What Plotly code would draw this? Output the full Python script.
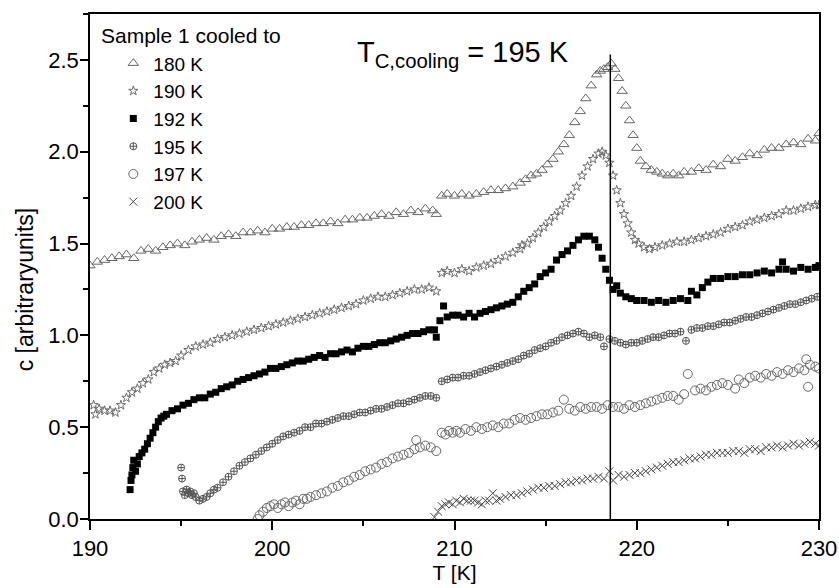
import plotly.graph_objects as go

# ---------------- data ----------------
T_180 = [190.0,190.4,190.8,191.2,191.6,192.0,192.4,192.8,193.2,193.6,
         194.0,194.4,194.8,195.2,195.6,196.0,196.4,196.8,197.2,197.6,
         198.0,198.4,198.8,199.2,199.6,200.0,200.4,200.8,201.2,201.6,
         202.0,202.4,202.8,203.2,203.6,204.0,204.4,204.8,205.2,205.6,
         206.0,206.4,206.8,207.2,207.6,208.0,208.4,208.8,209.0,209.3,
         209.6,210.0,210.4,210.8,211.2,211.6,212.0,212.4,212.8,213.2,
         213.6,213.9,214.2,214.5,214.8,215.1,215.4,215.7,216.0,216.3,
         216.6,216.9,217.2,217.5,217.8,218.0,218.2,218.4,218.6,218.8,
         219.0,219.2,219.4,219.6,219.8,220.0,220.2,220.5,220.8,221.1,
         221.4,221.7,222.0,222.3,222.6,223.0,223.4,223.8,224.2,224.6,
         225.0,225.4,225.8,226.2,226.6,227.0,227.4,227.8,228.2,228.6,
         229.0,229.4,229.8,230.0]
C_180 = [1.38,1.40,1.41,1.42,1.43,1.44,1.42,1.46,1.47,1.46,
         1.48,1.49,1.50,1.49,1.51,1.52,1.53,1.52,1.54,1.55,
         1.54,1.56,1.56,1.57,1.56,1.58,1.58,1.59,1.59,1.60,
         1.60,1.61,1.61,1.62,1.61,1.63,1.63,1.64,1.64,1.65,
         1.66,1.65,1.67,1.66,1.68,1.67,1.69,1.68,1.66,1.76,
         1.77,1.76,1.77,1.76,1.77,1.78,1.79,1.79,1.80,1.81,
         1.83,1.85,1.87,1.88,1.90,1.93,1.96,2.00,2.04,2.09,
         2.16,2.22,2.29,2.36,2.42,2.44,2.45,2.46,2.48,2.45,
         2.40,2.33,2.25,2.17,2.09,2.02,1.95,1.92,1.90,1.89,
         1.88,1.87,1.88,1.87,1.89,1.89,1.91,1.90,1.93,1.92,
         1.96,1.95,1.97,1.99,1.98,2.01,2.02,2.02,2.04,2.05,
         2.04,2.07,2.06,2.10]

T_190 = [190.2,190.3,190.5,190.8,191.1,191.4,191.7,192.0,192.3,192.6,
         192.9,193.2,193.5,193.8,194.1,194.4,194.7,195.0,195.4,195.8,
         196.2,196.6,197.0,197.4,197.8,198.2,198.6,199.0,199.4,199.8,
         200.2,200.6,201.0,201.4,201.8,202.2,202.6,203.0,203.4,203.8,
         204.2,204.6,205.0,205.4,205.8,206.2,206.6,207.0,207.4,207.8,
         208.2,208.6,209.0,209.3,209.6,210.0,210.4,210.8,211.2,211.6,
         212.0,212.4,212.8,213.2,213.6,214.0,214.3,214.6,214.9,215.2,
         215.5,215.8,216.1,216.4,216.7,217.0,217.3,217.6,217.9,218.1,
         218.3,218.5,218.7,218.9,219.1,219.3,219.5,219.7,219.9,220.1,
         220.4,220.7,221.0,221.4,221.8,222.2,222.6,223.0,223.4,223.8,
         224.2,224.6,225.0,225.4,225.8,226.2,226.6,227.0,227.4,227.8,
         228.2,228.6,229.0,229.4,229.8,230.0,213.7]
C_190 = [0.62,0.57,0.60,0.59,0.59,0.58,0.62,0.66,0.69,0.71,
         0.74,0.76,0.80,0.82,0.84,0.85,0.86,0.89,0.92,0.94,
         0.95,0.96,0.98,0.99,1.00,1.01,1.02,1.03,1.04,1.05,
         1.06,1.07,1.08,1.09,1.10,1.11,1.12,1.13,1.14,1.15,
         1.16,1.17,1.19,1.20,1.21,1.21,1.22,1.23,1.24,1.25,
         1.25,1.26,1.24,1.34,1.35,1.34,1.36,1.35,1.37,1.38,
         1.39,1.41,1.43,1.45,1.47,1.50,1.53,1.56,1.59,1.62,
         1.65,1.68,1.72,1.76,1.81,1.87,1.92,1.96,1.99,2.00,
         1.98,1.94,1.87,1.79,1.72,1.66,1.61,1.56,1.52,1.50,
         1.48,1.47,1.48,1.49,1.50,1.51,1.51,1.52,1.53,1.54,
         1.55,1.56,1.58,1.59,1.60,1.62,1.63,1.64,1.65,1.66,
         1.68,1.68,1.69,1.70,1.71,1.71,1.49]

T_192 = [192.2,192.25,192.3,192.35,192.4,192.5,192.6,192.7,192.85,193.0,
         193.15,193.3,193.45,193.6,193.75,193.9,194.05,194.2,194.5,194.8,
         195.1,195.4,195.7,196.0,196.3,196.6,196.9,197.2,197.5,197.8,
         198.1,198.4,198.7,199.0,199.3,199.6,199.9,200.2,200.5,200.8,
         201.1,201.4,201.7,202.0,202.3,202.6,202.9,203.2,203.5,203.8,
         204.1,204.4,204.7,205.0,205.3,205.6,205.9,206.2,206.5,206.8,
         207.1,207.4,207.7,208.0,208.3,208.6,208.9,209.0,209.2,209.4,
         209.6,209.9,210.2,210.5,210.8,211.1,211.4,211.7,212.0,212.3,
         212.6,212.9,213.2,213.5,213.8,214.1,214.4,214.7,215.0,215.3,
         215.6,215.9,216.2,216.5,216.8,217.1,217.4,217.7,217.9,218.1,
         218.3,218.5,218.7,218.9,219.1,219.4,219.7,220.0,220.4,220.8,
         221.2,221.6,222.0,222.4,222.8,223.0,223.3,223.6,223.9,224.2,
         224.6,225.0,225.4,225.8,226.2,226.6,227.0,227.4,227.8,228.0,
         228.2,228.6,229.0,229.4,229.8,230.0]
C_192 = [0.16,0.21,0.24,0.28,0.32,0.26,0.30,0.34,0.36,0.38,
         0.41,0.44,0.47,0.50,0.53,0.55,0.56,0.57,0.59,0.60,
         0.62,0.63,0.65,0.66,0.66,0.68,0.69,0.71,0.72,0.73,
         0.75,0.76,0.77,0.78,0.79,0.80,0.82,0.82,0.83,0.84,
         0.85,0.86,0.86,0.87,0.88,0.89,0.88,0.90,0.90,0.91,
         0.92,0.91,0.93,0.94,0.94,0.95,0.96,0.96,0.97,0.98,
         0.99,1.00,1.01,1.01,1.02,1.03,1.03,0.99,1.08,1.16,
         1.10,1.11,1.11,1.10,1.12,1.10,1.12,1.13,1.14,1.15,
         1.16,1.17,1.18,1.21,1.24,1.26,1.28,1.32,1.34,1.36,
         1.41,1.44,1.46,1.49,1.52,1.54,1.54,1.52,1.48,1.42,
         1.36,1.30,1.25,1.27,1.23,1.21,1.20,1.19,1.19,1.18,
         1.19,1.18,1.19,1.20,1.19,1.24,1.22,1.26,1.29,1.31,
         1.31,1.32,1.32,1.33,1.33,1.34,1.35,1.34,1.36,1.40,
         1.36,1.35,1.37,1.36,1.37,1.38]

T_195 = [195.0,195.05,195.1,195.2,195.3,195.4,195.5,195.6,195.7,195.8,
         196.0,196.2,196.4,196.6,196.8,197.0,197.3,197.6,197.9,198.2,
         198.5,198.8,199.1,199.4,199.7,200.0,200.3,200.6,200.9,201.2,
         201.5,201.8,202.1,202.4,202.7,203.0,203.3,203.6,203.9,204.2,
         204.5,204.8,205.1,205.4,205.7,206.0,206.3,206.6,206.9,207.2,
         207.5,207.8,208.1,208.4,208.7,209.0,209.3,209.6,209.9,210.2,
         210.5,210.8,211.1,211.4,211.7,212.0,212.3,212.6,212.9,213.2,
         213.5,213.8,214.1,214.4,214.7,215.0,215.3,215.6,215.9,216.2,
         216.5,216.8,217.1,217.4,217.7,218.0,218.2,218.5,218.8,219.1,
         219.4,219.7,220.0,220.3,220.6,220.9,221.2,221.5,221.8,222.1,
         222.4,222.7,223.0,223.3,223.6,223.9,224.2,224.5,224.8,225.1,
         225.4,225.7,226.0,226.3,226.6,226.9,227.2,227.5,227.8,228.1,
         228.4,228.7,229.0,229.3,229.6,229.9]
C_195 = [0.28,0.22,0.15,0.13,0.16,0.14,0.15,0.13,0.14,0.12,
         0.10,0.11,0.12,0.14,0.16,0.17,0.20,0.23,0.26,0.29,
         0.31,0.33,0.35,0.37,0.39,0.41,0.43,0.45,0.46,0.47,
         0.48,0.50,0.50,0.52,0.52,0.53,0.54,0.55,0.56,0.56,
         0.57,0.58,0.58,0.59,0.60,0.60,0.61,0.62,0.63,0.63,
         0.64,0.65,0.66,0.67,0.67,0.66,0.75,0.76,0.77,0.77,
         0.78,0.78,0.79,0.80,0.81,0.82,0.83,0.84,0.85,0.86,
         0.87,0.89,0.90,0.92,0.93,0.94,0.96,0.97,0.99,1.00,
         1.01,1.02,1.01,0.99,1.00,0.99,0.94,0.98,0.97,0.96,
         0.95,0.96,0.96,0.97,0.98,0.99,0.99,1.00,1.01,1.01,
         1.02,0.97,1.03,1.04,1.04,1.05,1.05,1.06,1.07,1.07,
         1.08,1.09,1.10,1.10,1.11,1.12,1.13,1.14,1.15,1.16,
         1.17,1.17,1.18,1.19,1.20,1.21]

T_197 = [199.2,199.3,199.5,199.7,199.9,200.1,200.3,200.5,200.7,200.9,
         201.1,201.3,201.5,201.7,201.9,202.1,202.4,202.7,203.0,203.3,
         203.6,203.9,204.2,204.5,204.8,205.1,205.4,205.7,206.0,206.3,
         206.6,206.9,207.2,207.5,207.8,207.9,208.1,208.4,208.7,209.0,
         209.3,209.5,209.7,209.9,210.1,210.3,210.6,210.9,211.2,211.5,
         211.8,212.1,212.4,212.7,213.0,213.3,213.6,213.9,214.2,214.5,
         214.8,215.1,215.4,215.7,216.0,216.3,216.6,216.9,217.2,217.5,
         217.8,218.1,218.4,218.7,219.0,219.3,219.6,219.9,220.2,220.5,
         220.8,221.1,221.4,221.7,222.0,222.3,222.6,222.8,223.2,223.5,
         223.8,224.1,224.4,224.7,225.0,225.4,225.6,225.9,226.2,226.5,
         226.8,227.1,227.4,227.7,228.0,228.3,228.6,228.9,229.2,229.3,
         229.4,229.5,229.8,230.0]
C_197 = [0.00,0.02,0.04,0.06,0.07,0.08,0.06,0.08,0.09,0.07,
         0.09,0.10,0.08,0.11,0.11,0.12,0.13,0.14,0.15,0.17,
         0.18,0.20,0.21,0.23,0.24,0.26,0.27,0.28,0.30,0.31,
         0.33,0.34,0.35,0.36,0.38,0.43,0.39,0.40,0.39,0.37,
         0.47,0.46,0.48,0.47,0.48,0.47,0.49,0.48,0.50,0.49,
         0.50,0.51,0.50,0.52,0.52,0.54,0.55,0.54,0.55,0.56,
         0.57,0.57,0.58,0.59,0.65,0.60,0.59,0.61,0.60,0.61,
         0.61,0.60,0.62,0.61,0.61,0.60,0.62,0.61,0.62,0.63,
         0.64,0.65,0.66,0.67,0.67,0.65,0.68,0.79,0.70,0.71,
         0.70,0.72,0.73,0.74,0.73,0.71,0.76,0.74,0.77,0.78,
         0.77,0.79,0.78,0.80,0.79,0.81,0.80,0.82,0.81,0.87,
         0.72,0.84,0.83,0.82]

T_200 = [208.9,209.1,209.3,209.5,209.7,209.9,210.1,210.3,210.5,210.7,
         210.9,211.1,211.3,211.5,211.7,211.9,212.1,212.3,212.5,212.8,
         213.1,213.4,213.7,214.0,214.3,214.6,214.9,215.2,215.5,215.8,
         216.1,216.4,216.7,217.0,217.3,217.6,217.9,218.2,218.5,218.7,
         219.0,219.3,219.6,219.9,220.2,220.5,220.8,221.1,221.4,221.7,
         222.0,222.3,222.6,222.9,223.2,223.5,223.8,224.1,224.4,224.7,
         225.0,225.3,225.6,225.9,226.2,226.5,226.8,227.1,227.4,227.7,
         228.0,228.3,228.6,228.9,229.2,229.5,229.8,230.0]
C_200 = [0.01,0.04,0.07,0.08,0.09,0.08,0.10,0.09,0.11,0.10,
         0.10,0.10,0.09,0.08,0.10,0.10,0.14,0.10,0.11,0.12,
         0.13,0.13,0.14,0.15,0.16,0.17,0.17,0.18,0.18,0.19,
         0.20,0.20,0.21,0.21,0.22,0.22,0.23,0.22,0.26,0.21,
         0.24,0.23,0.24,0.25,0.25,0.26,0.27,0.28,0.29,0.30,
         0.31,0.31,0.32,0.33,0.33,0.34,0.35,0.35,0.36,0.36,
         0.36,0.37,0.37,0.36,0.38,0.38,0.37,0.39,0.39,0.40,
         0.39,0.40,0.41,0.40,0.41,0.42,0.41,0.40]

SERIES_NAMES = ["180 K", "190 K", "192 K", "195 K", "197 K", "200 K"]
TC_LINE_T = [218.55, 218.55]
TC_LINE_C = [0.0, 2.53]

X_RANGE = [190, 230]
Y_RANGE = [0, 2.75]

for a, b in [(T_180, C_180), (T_190, C_190), (T_192, C_192),
             (T_195, C_195), (T_197, C_197), (T_200, C_200)]:
    assert len(a) == len(b), (len(a), len(b))

FONT = "Liberation Sans, Arial, Helvetica, sans-serif"

styles = [
    dict(symbol="triangle-up-open", size=9, color="#666666", line=dict(width=1, color="#666666")),
    dict(symbol="star-open", size=7, color="#6a6a6a", line=dict(width=1, color="#6a6a6a")),
    dict(symbol="square", size=7, color="#000000", line=dict(width=0)),
    dict(symbol="circle-cross-open", size=7, color="#555555", line=dict(width=1, color="#555555")),
    dict(symbol="circle-open", size=9, color="#666666", line=dict(width=1, color="#666666")),
    dict(symbol="x-thin-open", size=8, color="#444444", line=dict(width=1, color="#444444")),
]

data = [(T_180, C_180), (T_190, C_190), (T_192, C_192),
        (T_195, C_195), (T_197, C_197), (T_200, C_200)]

fig = go.Figure()
for (t, c), name, st in zip(data, SERIES_NAMES, styles):
    fig.add_trace(go.Scatter(x=t, y=c, mode="markers", name=name,
                             marker=st, legendgroup=name))

fig.add_trace(go.Scatter(x=TC_LINE_T, y=TC_LINE_C, mode="lines",
                         line=dict(color="black", width=1.5),
                         showlegend=False, hoverinfo="skip"))

axis_common = dict(showline=True, linecolor="black", linewidth=1.5, mirror=True,
                   showgrid=False, zeroline=False, ticks="outside",
                   tickcolor="black", tickwidth=1.5, automargin=False,
                   tickfont=dict(family=FONT, size=22, color="black"))

fig.update_xaxes(range=X_RANGE, dtick=10, tick0=190, ticklen=9,
                 minor=dict(dtick=5, ticks="outside", ticklen=5, tickcolor="black", tickwidth=1.5),
                 title=dict(text="T [K]", font=dict(family=FONT, size=21, color="black"), standoff=5),
                 **axis_common)
fig.update_yaxes(range=Y_RANGE, dtick=0.5, tick0=0, ticklen=8, tickformat=".1f",
                 ticklabelstandoff=-3,
                 minor=dict(dtick=0.25, ticks="outside", ticklen=5, tickcolor="black", tickwidth=1.5),
                 **axis_common)

# y axis title (placed as in the reference, somewhat below centre)
fig.add_annotation(xref="paper", yref="paper", x=-0.089, y=0.455,
                   xanchor="center", yanchor="middle", showarrow=False,
                   textangle=-90, text="c [arbitraryunits]",
                   font=dict(family=FONT, size=23, color="black"))
fig.add_annotation(xref="paper", yref="paper", x=0.0125, y=0.958,
                   xanchor="left", yanchor="middle", showarrow=False,
                   text="Sample 1 cooled to",
                   font=dict(family=FONT, size=21, color="black"))
fig.add_annotation(xref="paper", yref="paper", x=0.3635, y=0.921,
                   xanchor="left", yanchor="middle", showarrow=False,
                   text="T<sub>C,cooling</sub> = 195 K",
                   font=dict(family=FONT, size=29, color="black"))

fig.update_layout(
    width=839, height=588,
    margin=dict(l=90, r=20, t=14, b=69, autoexpand=False),
    paper_bgcolor="white", plot_bgcolor="white",
    font=dict(family=FONT, color="black"),
    legend=dict(x=0.032, y=0.94, xanchor="left", yanchor="top",
                bgcolor="rgba(0,0,0,0)", borderwidth=0,
                font=dict(family=FONT, size=19, color="black"),
                tracegroupgap=0, itemsizing="trace"),
)

fig.write_html("out.html")
